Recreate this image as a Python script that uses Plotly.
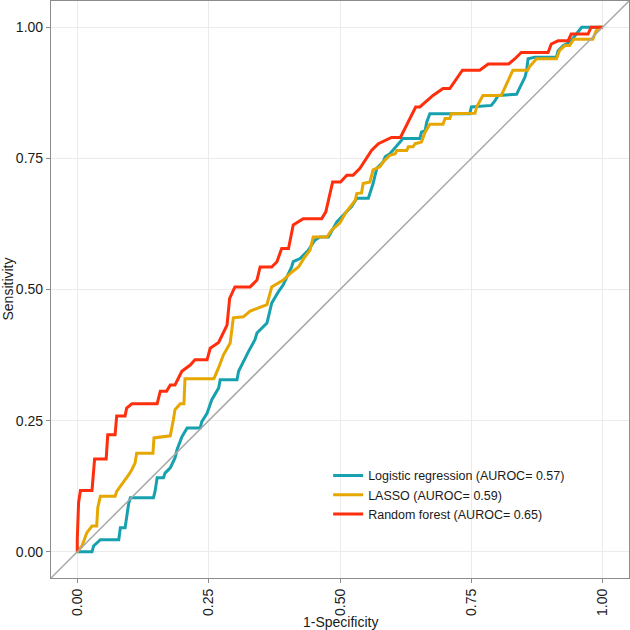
import plotly.graph_objects as go

# ---- data ----
lr_fpr = [0.000, 0.028, 0.031, 0.044, 0.079, 0.082, 0.091, 0.098, 0.101, 0.145, 0.148, 0.152, 0.164, 0.167,
          0.177, 0.186, 0.190, 0.199, 0.209, 0.234, 0.237, 0.247, 0.256, 0.269, 0.272, 0.304, 0.307, 0.316,
          0.326, 0.338, 0.342, 0.361, 0.370, 0.383, 0.392, 0.399, 0.408, 0.411, 0.424, 0.440, 0.452, 0.462,
          0.478, 0.494, 0.506, 0.522, 0.532, 0.554, 0.563, 0.570, 0.582, 0.586, 0.595, 0.608, 0.620, 0.652,
          0.655, 0.662, 0.665, 0.671, 0.747, 0.750, 0.788, 0.795, 0.801, 0.836, 0.845, 0.852, 0.855, 0.858,
          0.871, 0.912, 0.915, 0.925, 0.937, 0.944, 0.950, 0.960, 1.000]
lr_tpr = [0.000, 0.000, 0.011, 0.023, 0.023, 0.046, 0.046, 0.093, 0.103, 0.103, 0.115, 0.141, 0.141, 0.150,
          0.160, 0.179, 0.195, 0.219, 0.236, 0.236, 0.248, 0.264, 0.290, 0.312, 0.328, 0.328, 0.344, 0.363,
          0.382, 0.404, 0.417, 0.436, 0.474, 0.496, 0.509, 0.524, 0.543, 0.553, 0.559, 0.575, 0.594, 0.600,
          0.600, 0.629, 0.642, 0.658, 0.674, 0.674, 0.702, 0.731, 0.743, 0.753, 0.759, 0.775, 0.788, 0.788,
          0.800, 0.803, 0.819, 0.835, 0.835, 0.848, 0.851, 0.860, 0.870, 0.872, 0.892, 0.905, 0.917, 0.940,
          0.943, 0.943, 0.955, 0.965, 0.971, 0.980, 0.987, 1.000, 1.000]

lasso_fpr = [0.000, 0.009, 0.018, 0.028, 0.037, 0.039, 0.044, 0.072, 0.075, 0.085, 0.091, 0.098, 0.104, 0.110,
             0.113, 0.144, 0.146, 0.177, 0.183, 0.186, 0.196, 0.203, 0.205, 0.260, 0.269, 0.278, 0.291, 0.297,
             0.316, 0.329, 0.361, 0.370, 0.392, 0.408, 0.421, 0.433, 0.443, 0.449, 0.475, 0.484, 0.500, 0.510,
             0.519, 0.529, 0.532, 0.541, 0.544, 0.557, 0.563, 0.576, 0.582, 0.595, 0.605, 0.608, 0.627, 0.630,
             0.639, 0.643, 0.655, 0.662, 0.671, 0.696, 0.700, 0.709, 0.712, 0.757, 0.760, 0.772, 0.807, 0.817,
             0.829, 0.857, 0.861, 0.874, 0.912, 0.918, 0.928, 0.937, 0.945, 0.981, 0.987, 0.994, 1.000]
lasso_tpr = [0.000, 0.011, 0.036, 0.049, 0.049, 0.084, 0.106, 0.106, 0.115, 0.128, 0.138, 0.147, 0.157, 0.169,
             0.188, 0.188, 0.217, 0.221, 0.252, 0.271, 0.282, 0.282, 0.330, 0.330, 0.351, 0.375, 0.398, 0.446,
             0.448, 0.459, 0.471, 0.505, 0.518, 0.533, 0.543, 0.562, 0.575, 0.600, 0.600, 0.613, 0.627, 0.645,
             0.657, 0.670, 0.683, 0.684, 0.702, 0.705, 0.728, 0.734, 0.743, 0.756, 0.759, 0.765, 0.765, 0.772,
             0.772, 0.778, 0.781, 0.800, 0.815, 0.815, 0.826, 0.826, 0.835, 0.836, 0.848, 0.870, 0.870, 0.892,
             0.918, 0.918, 0.925, 0.940, 0.940, 0.956, 0.965, 0.965, 0.977, 0.977, 0.992, 1.000, 1.000]

rf_fpr = [0.000, 0.000, 0.0025, 0.006, 0.028, 0.033, 0.055, 0.058, 0.072, 0.075, 0.091, 0.094, 0.104, 0.152,
          0.158, 0.170, 0.177, 0.186, 0.199, 0.215, 0.224, 0.247, 0.253, 0.269, 0.285, 0.290, 0.300, 0.329,
          0.342, 0.348, 0.370, 0.380, 0.389, 0.402, 0.411, 0.430, 0.465, 0.473, 0.486, 0.501, 0.513, 0.525,
          0.538, 0.560, 0.573, 0.598, 0.615, 0.627, 0.644, 0.652, 0.677, 0.696, 0.709, 0.733, 0.766, 0.782,
          0.821, 0.833, 0.845, 0.896, 0.902, 0.915, 0.934, 0.940, 0.972, 0.978, 1.000]
rf_tpr = [0.000, 0.023, 0.094, 0.117, 0.117, 0.177, 0.177, 0.223, 0.223, 0.259, 0.259, 0.274, 0.282, 0.282,
          0.306, 0.306, 0.318, 0.318, 0.344, 0.356, 0.366, 0.366, 0.388, 0.399, 0.432, 0.483, 0.505, 0.505,
          0.518, 0.543, 0.543, 0.553, 0.578, 0.578, 0.623, 0.635, 0.635, 0.648, 0.705, 0.705, 0.718, 0.718,
          0.731, 0.765, 0.778, 0.790, 0.790, 0.813, 0.848, 0.848, 0.870, 0.883, 0.883, 0.918, 0.918, 0.930,
          0.930, 0.940, 0.952, 0.952, 0.968, 0.974, 0.974, 0.987, 0.987, 1.000, 1.000]

series_names = ["Logistic regression (AUROC= 0.57)",
                "LASSO (AUROC= 0.59)",
                "Random forest (AUROC= 0.65)"]
series_colors = ["#17A1AE", "#E5A700", "#FF2E0C"]

tick_vals = [0.0, 0.25, 0.5, 0.75, 1.0]
tick_text = ["0.00", "0.25", "0.50", "0.75", "1.00"]
diag = [-0.05, 1.05]

x_title = "1-Specificity"
y_title = "Sensitivity"

fig = go.Figure()
for xs, ys, name, col in zip([lr_fpr, lasso_fpr, rf_fpr], [lr_tpr, lasso_tpr, rf_tpr],
                             series_names, series_colors):
    fig.add_trace(go.Scatter(x=xs, y=ys, mode="lines", name=name,
                             line=dict(color=col, width=3)))
fig.add_trace(go.Scatter(x=diag, y=diag, mode="lines", showlegend=False,
                         line=dict(color="#A8A8A8", width=1.5), hoverinfo="skip"))

axis_common = dict(
    range=[-0.05, 1.05], tickvals=tick_vals, ticktext=tick_text,
    showgrid=True, gridcolor="#EBEBEB", gridwidth=1, zeroline=False,
    showline=True, linecolor="#8C8C8C", linewidth=1.2, mirror=True,
    ticks="outside", ticklen=4, tickcolor="#8C8C8C", tickwidth=1,
    tickfont=dict(family="Liberation Sans, Arial", size=14, color="#1A1A1A"),
    automargin=False,
)

fig.update_layout(
    width=630, height=630,
    margin=dict(l=51, r=1, t=1, b=52),
    paper_bgcolor="white", plot_bgcolor="white",
    font=dict(family="Liberation Sans, Arial", color="#1A1A1A"),
    xaxis=dict(axis_common, tickangle=-90),
    yaxis=dict(axis_common),
    legend=dict(x=0.4795, y=0.203, xanchor="left", yanchor="top",
                bgcolor="rgba(0,0,0,0)", font=dict(size=12.5, color="#1A1A1A"),
                tracegroupgap=0),
    showlegend=True,
    annotations=[
        dict(text=x_title, xref="paper", yref="paper", x=0.5, y=-0.0763,
             xanchor="center", yanchor="middle", showarrow=False,
             font=dict(size=14, color="#1A1A1A")),
        dict(text=y_title, xref="paper", yref="paper", x=-0.0761, y=0.5,
             xanchor="center", yanchor="middle", showarrow=False, textangle=-90,
             font=dict(size=14, color="#1A1A1A")),
    ],
)

fig.write_html(
    "out.html",
    config={"displayModeBar": False},
    post_script="document.body.style.margin='0';document.body.style.padding='0';"
                "document.body.style.overflow='hidden';",
)
